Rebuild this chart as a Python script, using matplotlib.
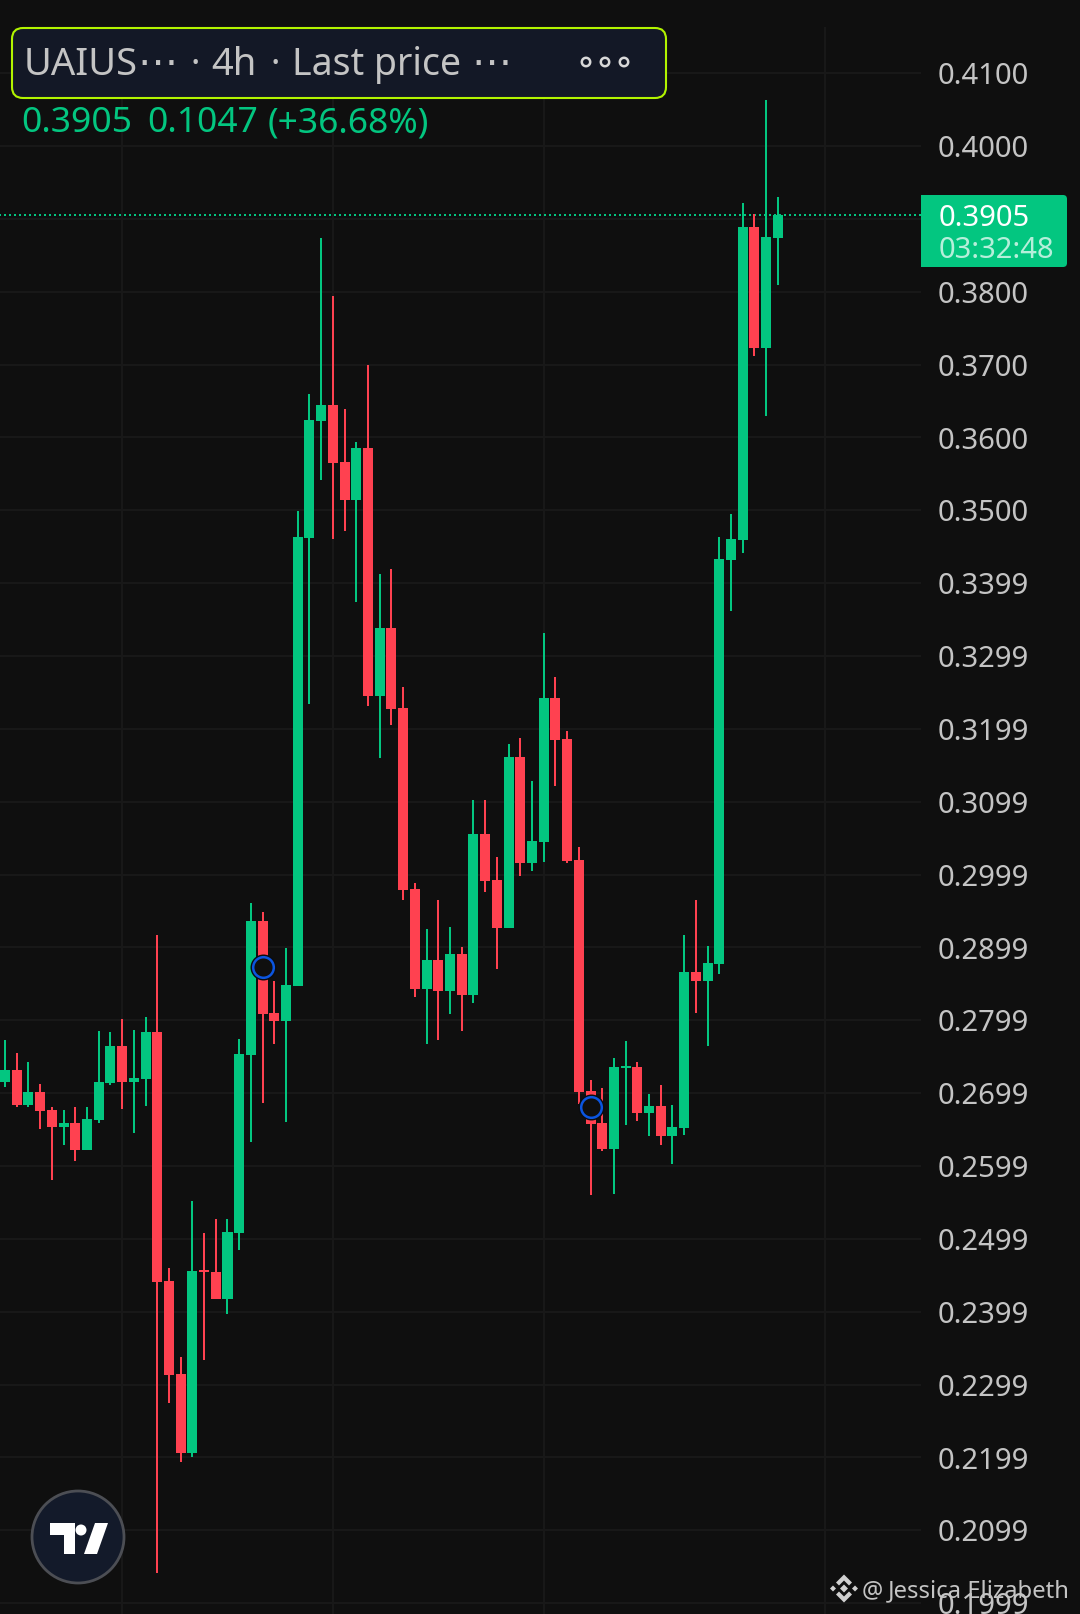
#!/usr/bin/env python3
"""UAIUSDT 4h candlestick chart, dark theme, phone screenshot layout."""

import matplotlib
matplotlib.use('Agg')
import matplotlib.pyplot as plt
import matplotlib.patches as patches

plt.rcParams['font.family'] = ['Noto Sans', 'DejaVu Sans']

# Palette
BG = '#0F0F0F'
GRID = '#181818'
GREEN = '#03C680'
RED = '#FF4150'
LABEL = '#C4C4C4'
PANEL = '#131826'
LIME = '#B2F400'
BLUE = '#0B55E0'

# OHLC
opens = [0.2715, 0.2732, 0.2684, 0.2702, 0.2677, 0.2654, 0.2659, 0.2622, 0.2663, 0.2714,
         0.2765, 0.2715, 0.2720, 0.2784, 0.2442, 0.2315, 0.2206, 0.2457, 0.2455, 0.2418,
         0.2508, 0.2752, 0.2936, 0.2810, 0.2799, 0.2847, 0.3462, 0.3623, 0.3645, 0.3566,
         0.3514, 0.3586, 0.3245, 0.3339, 0.3229, 0.2980, 0.2843, 0.2883, 0.2840, 0.2891,
         0.2835, 0.3056, 0.2993, 0.2927, 0.3161, 0.3016, 0.3045, 0.3242, 0.3186, 0.3020,
         0.2703, 0.2659, 0.2623, 0.2735, 0.2736, 0.2673, 0.2682, 0.2641, 0.2652, 0.2866,
         0.2854, 0.2877, 0.3432, 0.3459, 0.3889, 0.3723, 0.3874]
highs = [0.2773, 0.2755, 0.2743, 0.2713, 0.2681, 0.2677, 0.2681, 0.2681, 0.2785, 0.2784,
         0.2802, 0.2787, 0.2805, 0.2917, 0.2460, 0.2338, 0.2552, 0.2508, 0.2527, 0.2527,
         0.2774, 0.2961, 0.2949, 0.2854, 0.2899, 0.3499, 0.3660, 0.3874, 0.3794, 0.3639,
         0.3594, 0.3699, 0.3413, 0.3419, 0.3258, 0.2988, 0.2925, 0.2965, 0.2928, 0.2901,
         0.3102, 0.3102, 0.3024, 0.3179, 0.3188, 0.3129, 0.3332, 0.3271, 0.3197, 0.3038,
         0.2718, 0.2707, 0.2748, 0.2772, 0.2743, 0.2699, 0.2711, 0.2684, 0.2917, 0.2965,
         0.2902, 0.3463, 0.3495, 0.3922, 0.3907, 0.4063, 0.3930]
lows = [0.2709, 0.2681, 0.2681, 0.2651, 0.2581, 0.2629, 0.2607, 0.2622, 0.2659, 0.2711,
        0.2678, 0.2645, 0.2682, 0.2042, 0.2275, 0.2194, 0.2201, 0.2334, 0.2418, 0.2397,
        0.2485, 0.2633, 0.2687, 0.2768, 0.2661, 0.2847, 0.3234, 0.3542, 0.3461, 0.3472,
        0.3374, 0.3231, 0.3160, 0.3205, 0.2965, 0.2832, 0.2768, 0.2773, 0.2809, 0.2785,
        0.2824, 0.2976, 0.2870, 0.2927, 0.2998, 0.3005, 0.3017, 0.3122, 0.3016, 0.2685,
        0.2560, 0.2621, 0.2562, 0.2656, 0.2662, 0.2641, 0.2629, 0.2603, 0.2643, 0.2810,
        0.2765, 0.2864, 0.3362, 0.3441, 0.3712, 0.3629, 0.3809]
closes = [0.2732, 0.2684, 0.2702, 0.2676, 0.2654, 0.2659, 0.2622, 0.2665, 0.2715, 0.2765,
          0.2715, 0.2721, 0.2784, 0.2441, 0.2313, 0.2206, 0.2456, 0.2455, 0.2418, 0.2510,
          0.2754, 0.2936, 0.2809, 0.2799, 0.2849, 0.3463, 0.3624, 0.3645, 0.3565, 0.3514,
          0.3586, 0.3245, 0.3339, 0.3227, 0.2979, 0.2843, 0.2883, 0.2840, 0.2891, 0.2835,
          0.3056, 0.2991, 0.2927, 0.3161, 0.3016, 0.3046, 0.3242, 0.3185, 0.3019, 0.2702,
          0.2658, 0.2623, 0.2736, 0.2737, 0.2673, 0.2682, 0.2641, 0.2654, 0.2866, 0.2854,
          0.2879, 0.3433, 0.3461, 0.3889, 0.3723, 0.3875, 0.3905]

# Price scale: grid level and the label the app prints for it
grid_prices = [0.41, 0.40, 0.39, 0.38, 0.37, 0.36, 0.35, 0.34, 0.33, 0.32, 0.31,
               0.30, 0.29, 0.28, 0.27, 0.26, 0.25, 0.24, 0.23, 0.22, 0.21, 0.20]
price_labels = ['0.4100', '0.4000', '', '0.3800', '0.3700', '0.3600', '0.3500', '0.3399',
                '0.3299', '0.3199', '0.3099', '0.2999', '0.2899', '0.2799', '0.2699',
                '0.2599', '0.2499', '0.2399', '0.2299', '0.2199', '0.2099', '0.1999']
time_grid = [10, 28, 46, 70]
last_price = 0.3905

# Blue circle markers on the candles
marker_idx = [22, 50]
marker_prices = [0.2873, 0.2681]


def draw_candles(ax):
    idx = list(range(len(opens)))
    colors = [GREEN if c >= o else RED for o, c in zip(opens, closes)]
    bottoms = [min(o, c) for o, c in zip(opens, closes)]
    heights = [abs(c - o) for o, c in zip(opens, closes)]

    ax.vlines(idx, lows, highs, colors=colors, linewidth=1.44, zorder=3)
    ax.bar(idx, heights, width=0.855, bottom=bottoms, color=colors, linewidth=0, zorder=4)

    # halo + ring
    ax.scatter(marker_idx, marker_prices, s=350, color='#0A0C10', linewidths=0, zorder=5)
    ax.scatter(marker_idx, marker_prices, s=220, facecolor=BG, edgecolor=BLUE,
               linewidths=1.8, zorder=6)


def draw_overlay(ov):
    # Legend box
    box = patches.FancyBboxPatch((12, 28), 654, 70, boxstyle='round,pad=0,rounding_size=11',
                                 facecolor=PANEL, edgecolor=LIME, linewidth=1.5, zorder=2)
    ov.add_patch(box)

    base = 75
    ov.text(24, base, 'UAIUS', fontsize=27.5, color=LABEL, ha='left', va='baseline', zorder=3)
    ov.text(137, base, '\u22ef', fontsize=29, color=LABEL, ha='left', va='baseline',
            family='DejaVu Sans', zorder=3)
    ov.text(195, 69, '\u2022', fontsize=14, color=LABEL, ha='center', va='baseline', zorder=3)
    ov.text(211, base, '4h', fontsize=27.5, color=LABEL, ha='left', va='baseline', zorder=3)
    ov.text(275, 69, '\u2022', fontsize=14, color=LABEL, ha='center', va='baseline', zorder=3)
    ov.text(292, base, 'Last price', fontsize=27, color=LABEL, ha='left', va='baseline', zorder=3)
    ov.text(471, base, '\u22ef', fontsize=29, color=LABEL, ha='left', va='baseline',
            family='DejaVu Sans', zorder=3)
    for x in (586, 605, 624):
        ov.add_patch(patches.Circle((x, 62), 4.2, facecolor=PANEL, edgecolor='#D8D8D8',
                                    linewidth=1.8, zorder=3))

    # OHLC line
    ov.text(21, 132, '0.3905', fontsize=25.5, color=GREEN, ha='left', va='baseline')
    ov.text(147, 132, '0.1047', fontsize=25.5, color=GREEN, ha='left', va='baseline')
    ov.text(268, 132, '(+36.68%)', fontsize=25.5, color=GREEN, ha='left', va='baseline')

    # Last price tag
    ov.add_patch(patches.FancyBboxPatch((921, 195), 146, 72,
                                        boxstyle='round,pad=0,rounding_size=4',
                                        facecolor=GREEN, edgecolor='none', zorder=2))
    ov.add_patch(patches.Rectangle((921, 195), 10, 72, facecolor=GREEN, edgecolor='none', zorder=2))
    ov.text(939, 226, '0.3905', fontsize=21, color='white', ha='left', va='baseline', zorder=3)
    ov.text(939, 258, '03:32:48', fontsize=21, color='#B5EFDA', ha='left', va='baseline', zorder=3)

    # TradingView logo
    ov.add_patch(patches.Circle((78, 1537), 46, facecolor='#131A2A', edgecolor='#4C4E54',
                                linewidth=2, zorder=3))
    ov.add_patch(patches.Polygon([(50, 1523), (75, 1523), (75, 1554), (64, 1554), (64, 1535),
                                  (50, 1535)], closed=True, facecolor='white', zorder=4))
    ov.add_patch(patches.Circle((81, 1530), 5.5, facecolor='white', zorder=4))
    ov.add_patch(patches.Polygon([(95, 1523), (108, 1523), (97, 1554), (84, 1554)], closed=True,
                                 facecolor='white', zorder=4))

    # Watermark, Binance mark and handle
    icon = '#D0D0D0'
    cx, cy = 844, 1588.5
    for pts in ([(0, -14), (8, -6), (5, -3), (0, -8), (-5, -3), (-8, -6)],
                [(0, 14), (8, 6), (5, 3), (0, 8), (-5, 3), (-8, 6)],
                [(0, -4), (4, 0), (0, 4), (-4, 0)],
                [(-14, 0), (-11, -3), (-8, 0), (-11, 3)],
                [(14, 0), (11, -3), (8, 0), (11, 3)]):
        ov.add_patch(patches.Polygon([(cx + x, cy + y) for x, y in pts], closed=True,
                                     facecolor=icon, edgecolor='none', zorder=6))
    ov.text(862, 1597, '@', fontsize=17, color=LABEL, ha='left', va='baseline', zorder=6)
    ov.text(888, 1597, 'Jessica Elizabeth', fontsize=17.2, color=LABEL, ha='left',
            va='baseline', zorder=6)


def create_chart():
    fig = plt.figure(figsize=(10.8, 16.14), dpi=100, facecolor=BG)

    ax = fig.add_axes([0, 0, 1, 1], facecolor=BG)
    ax.set_xlim(-0.427, 91.80)
    ax.set_ylim(0.19852, 0.42004)
    ax.axis('off')

    # Grid stops at the price scale, and starts just above the first level
    x_end = 78.22
    ax.hlines(grid_prices, -1, x_end, colors=GRID, linewidth=1.5, zorder=1)
    ax.vlines(time_grid, 0.19, 0.4163, colors=GRID, linewidth=1.5, zorder=1)

    # Last price line
    ax.hlines([last_price], -1, x_end, colors=GREEN, linewidth=1.44,
              linestyles=(0, (1.0, 1.5)), zorder=2)

    draw_candles(ax)

    # Price labels
    for price, label in zip(grid_prices, price_labels):
        ax.annotate(label, xy=(938 / 1080, price), xycoords=('axes fraction', 'data'),
                    xytext=(0, -8), textcoords='offset points', fontsize=21, color=LABEL,
                    ha='left', va='baseline', zorder=5)

    ov = fig.add_axes([0, 0, 1, 1], facecolor='none')
    ov.set_xlim(0, 1080)
    ov.set_ylim(1614, 0)
    ov.axis('off')
    draw_overlay(ov)

    return fig


def main():
    fig = create_chart()
    fig.savefig('out.png', dpi=100, facecolor=BG)
    plt.close(fig)


if __name__ == '__main__':
    main()
